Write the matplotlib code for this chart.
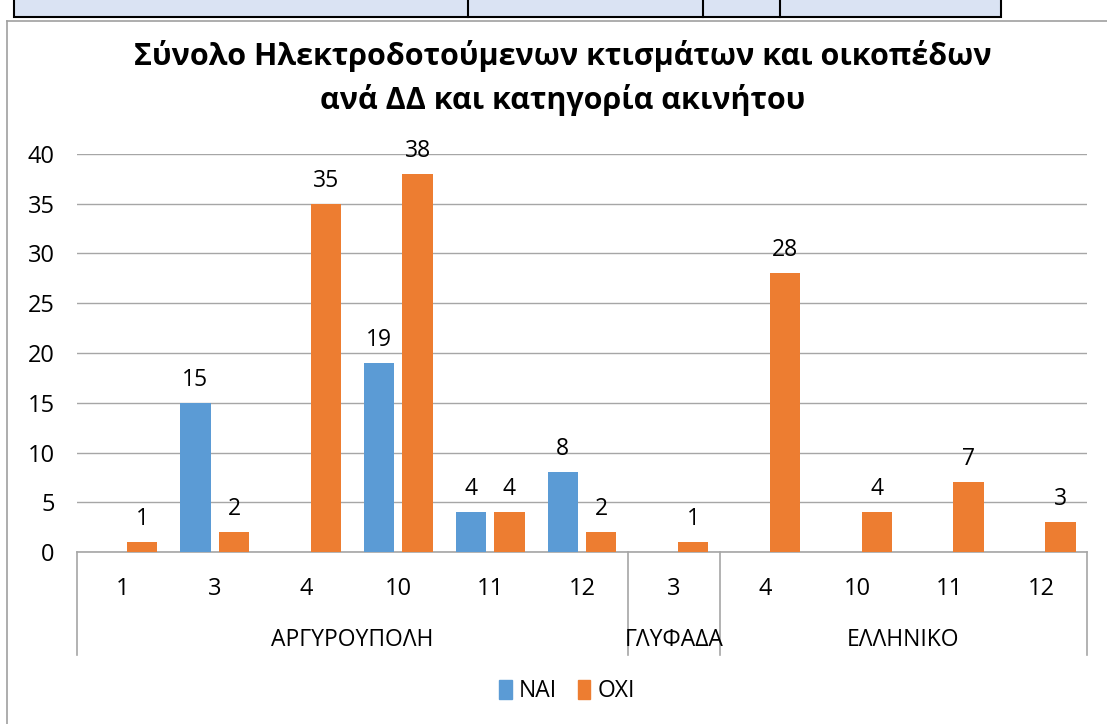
import matplotlib.pyplot as plt
import matplotlib.patches as mpatches
from matplotlib.lines import Line2D
import matplotlib.transforms as mtransforms
import numpy as np

plt.rcParams['font.family'] = ['Open Sans', 'DejaVu Sans']

# Datos
categorias = ['1', '3', '4', '10', '11', '12', '3', '4', '10', '11', '12']
grupos = ['ΑΡΓΥΡΟΥΠΟΛΗ', 'ΓΛΥΦΑΔΑ', 'ΕΛΛΗΝΙΚΟ']
tam_grupos = [6, 1, 4]
nai = [0, 15, 0, 19, 4, 8, 0, 0, 0, 0, 0]
oxi = [1, 2, 35, 38, 4, 2, 1, 28, 4, 7, 3]
series = ['ΝΑΙ', 'ΟΧΙ']
titulo = 'Σύνολο Ηλεκτροδοτούμενων κτισμάτων και οικοπέδων\nανά ΔΔ και κατηγορία ακινήτου'

AZUL = '#5B9BD5'
NARANJA = '#ED7D31'
GRIS = '#A6A6A6'

W, H = 1107, 724
fig = plt.figure(figsize=(W / 100, H / 100), dpi=100)

# Marco del gráfico y tabla cortada arriba
fig.add_artist(Line2D([7 / W, 7 / W], [0, 1 - 21 / H], color='#A0A0A0', lw=1.2))
fig.add_artist(Line2D([7 / W, 1], [1 - 21 / H, 1 - 21 / H], color='#A0A0A0', lw=1.2))
fig.add_artist(mpatches.Rectangle((14 / W, 1 - 17 / H), (1001 - 14) / W, 30 / H,
                                  facecolor='#DAE3F3', edgecolor='black', lw=1.5))
for xd in [468, 703, 780]:
    fig.add_artist(Line2D([xd / W, xd / W], [1 - 17 / H, 1], color='black', lw=1.5))

# Ejes
ax = fig.add_axes([77 / W, 1 - 552 / H, 1010 / W, 398 / H])
x = np.arange(len(categorias))
ancho = 0.33
off = 0.21

b1 = ax.bar(x - off, nai, width=ancho, color=AZUL, label=series[0], zorder=3)
b2 = ax.bar(x + off, oxi, width=ancho, color=NARANJA, label=series[1], zorder=3)
ax.bar_label(b1, labels=[str(v) if v else '' for v in nai], padding=8, fontsize=16.5)
ax.bar_label(b2, labels=[str(v) if v else '' for v in oxi], padding=8, fontsize=16.5)

ax.set_xlim(-0.5, len(categorias) - 0.5)
ax.set_ylim(0, 40)
ax.set_yticks(range(0, 41, 5))
ax.yaxis.grid(True, color=GRIS, lw=1, zorder=0)
ax.tick_params(axis='y', length=0, pad=16, labelsize=17)
ax.set_xticks(x)
ax.set_xticklabels(categorias)
ax.tick_params(axis='x', length=0, pad=18, labelsize=17)

for s in ['left', 'right', 'top']:
    ax.spines[s].set_visible(False)
ax.spines['bottom'].set_color(GRIS)
ax.spines['bottom'].set_linewidth(1.2)

# Separadores y etiquetas de grupo
trans = mtransforms.blended_transform_factory(ax.transData, ax.transAxes)
bordes = np.concatenate([[0], np.cumsum(tam_grupos)]) - 0.5
y_sep = -(655 - 552) / 398
for b in bordes:
    ax.plot([b, b], [0, y_sep], transform=trans, color=GRIS, lw=1.2, clip_on=False)
for g, i0, i1 in zip(grupos, bordes[:-1], bordes[1:]):
    ax.text((i0 + i1) / 2, -(640 - 552) / 398, g, transform=trans,
            ha='center', va='center', fontsize=16.5)

fig.suptitle(titulo, x=563 / W, y=1 - 40 / H, va='top', fontsize=22,
             fontweight='bold', linespacing=1.5)

handles = [mpatches.Patch(color=AZUL), mpatches.Patch(color=NARANJA)]
fig.legend(handles, series, loc='center', bbox_to_anchor=(567 / W, 1 - 691 / H),
           ncol=2, frameon=False, fontsize=16.5, handlelength=0.55, handleheight=0.9,
           handletextpad=0.3, columnspacing=0.9)

fig.savefig('out.png', dpi=100)
